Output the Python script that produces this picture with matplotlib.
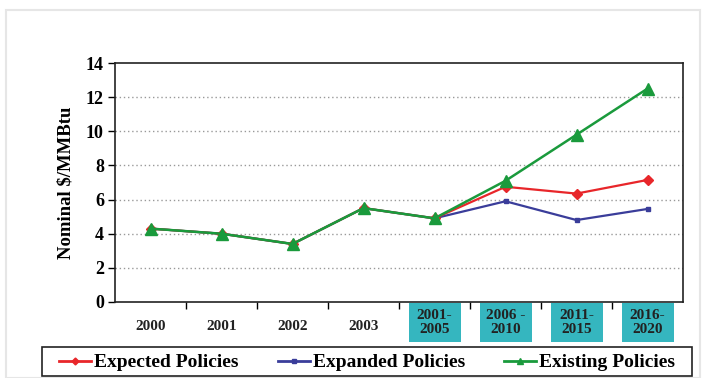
import matplotlib
matplotlib.use("Agg")
import matplotlib.pyplot as plt
from matplotlib.patches import Rectangle
from matplotlib.lines import Line2D
import matplotlib.transforms as mtransforms

categories = ["2000", "2001", "2002", "2003", "2001-\n2005", "2006 -\n2010", "2011-\n2015", "2016-\n2020"]
boxed = [False, False, False, False, True, True, True, True]
expected = [4.3, 4.0, 3.4, 5.5, 4.9, 6.75, 6.35, 7.15]
expanded = [4.3, 4.0, 3.4, 5.5, 4.9, 5.9, 4.8, 5.45]
existing = [4.3, 4.0, 3.4, 5.5, 4.9, 7.1, 9.8, 12.5]
yticks = [0, 2, 4, 6, 8, 10, 12, 14]
series_names = ["Expected Policies", "Expanded Policies", "Existing Policies"]

RED, BLUE, GREEN = '#e8262a', '#3a3d9a', '#1a9a3c'

plt.rcParams['font.family'] = ['Liberation Serif', 'DejaVu Serif']
plt.rcParams['font.weight'] = 'bold'

W, H = 708, 378
fig = plt.figure(figsize=(W / 100, H / 100), dpi=100)
fig.patches.append(Rectangle((6 / W, 0), 694 / W, 1 - 10 / H, transform=fig.transFigure,
                             fill=False, edgecolor='#e6e6e6', linewidth=1.5))

ax = fig.add_axes([115 / W, 76 / H, 568 / W, 239 / H])
x = list(range(len(categories)))

ax.plot(x, expanded, color=BLUE, marker='s', markersize=3.5, linewidth=1.6, zorder=3)
ax.plot(x, expected, color=RED, marker='D', markersize=5, linewidth=1.6, zorder=4)
ax.plot(x, existing, color=GREEN, marker='^', markersize=8, linewidth=1.8, zorder=5)

ax.set_xlim(-0.5, len(categories) - 0.5)
ax.set_ylim(0, 14)
ax.set_yticks(yticks)
ax.set_yticklabels([str(v) for v in yticks], fontsize=13, fontweight='bold')
ax.set_xticks([i + 0.5 for i in range(len(categories) - 1)])
ax.set_xticklabels([])
ax.tick_params(axis='x', length=5, width=1, direction='out')
ax.tick_params(axis='y', length=5, width=1, direction='out', pad=3)
for yv in yticks[1:-1]:
    ax.axhline(yv, color='#999999', linestyle=(0, (1, 2)), linewidth=1, zorder=1)
for s in ax.spines.values():
    s.set_color('#222222')
    s.set_linewidth(1.2)
ax.set_ylabel("Nominal \\$/MMBtu", fontsize=13.5, fontweight='bold', labelpad=8)

trans = mtransforms.blended_transform_factory(ax.transData, ax.transAxes)
box_w = 52 / 71.0
box_top = -1 / 239
box_h = 39 / 239
for i, (lab, b) in enumerate(zip(categories, boxed)):
    if b:
        ax.add_patch(Rectangle((i - box_w / 2, box_top - box_h), box_w, box_h, transform=trans,
                               facecolor='#35b6bf', edgecolor='none', clip_on=False))
        ax.text(i, box_top - box_h / 2, lab, transform=trans, ha='center', va='center', fontsize=11,
                fontweight='bold', color='#222222', linespacing=1.1, clip_on=False)
    else:
        ax.text(i, -24 / 239, lab, transform=trans, ha='center', va='center', fontsize=11,
                fontweight='bold', color='#222222', clip_on=False)

# legend
fig.patches.append(Rectangle((42 / W, 2 / H), 650 / W, 29 / H, transform=fig.transFigure,
                             fill=False, edgecolor='#222222', linewidth=1.2))
handles = [
    Line2D([], [], color=RED, marker='D', markersize=3.5, linewidth=2),
    Line2D([], [], color=BLUE, marker='s', markersize=2.5, linewidth=2),
    Line2D([], [], color=GREEN, marker='^', markersize=5, linewidth=2),
]
leg = fig.legend(handles, series_names, loc='center', bbox_to_anchor=(367 / W, 15.5 / H),
                 ncol=3, frameon=False, prop={'size': 14, 'weight': 'bold'},
                 handlelength=1.65, handletextpad=0.15, columnspacing=2.0,
                 borderpad=0, borderaxespad=0)

fig.savefig("out.png", dpi=100)
